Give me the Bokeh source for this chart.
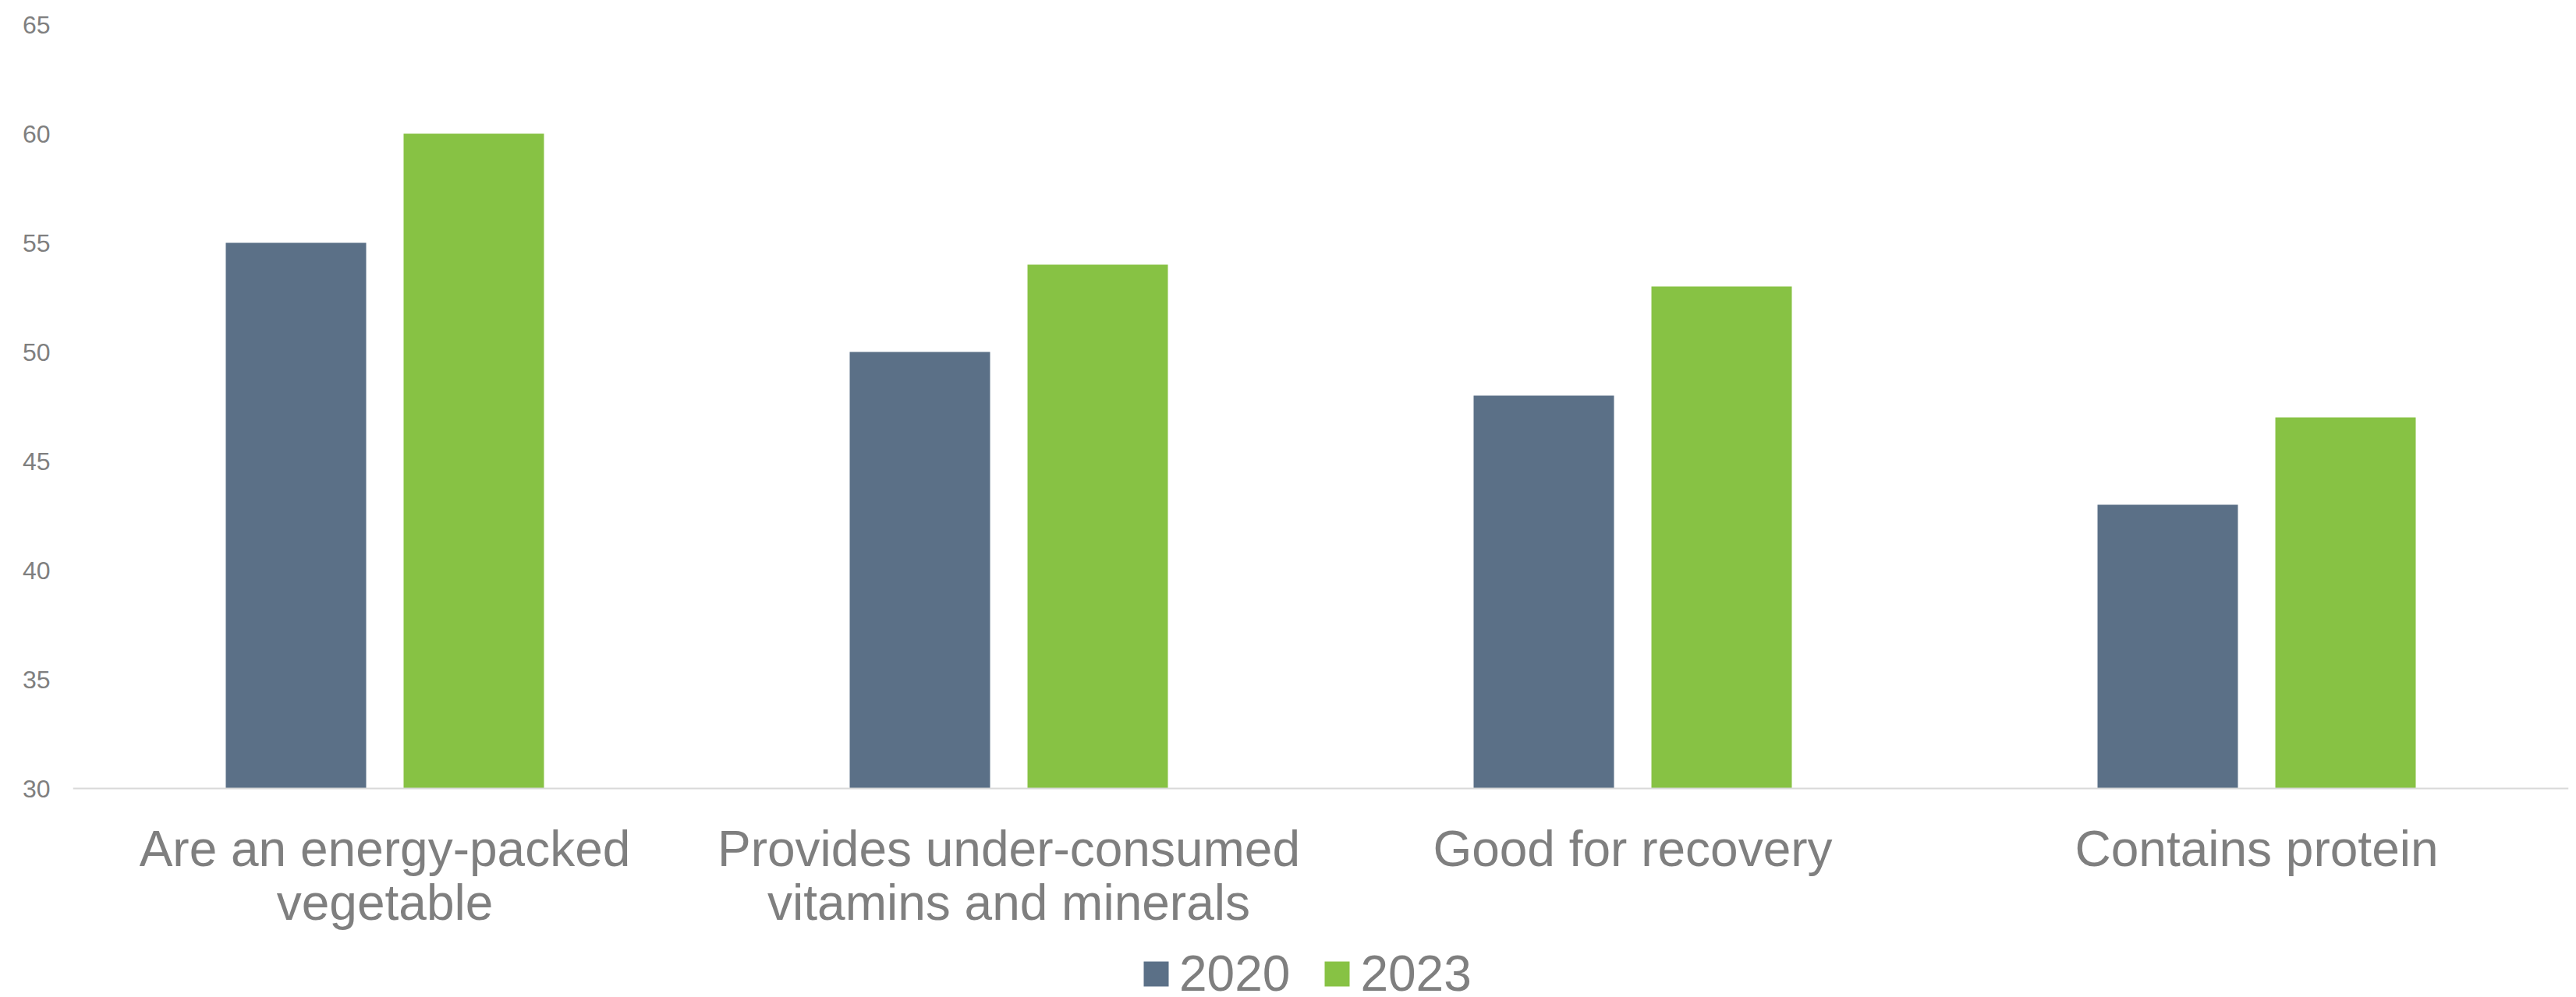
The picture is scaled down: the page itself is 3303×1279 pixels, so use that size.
from bokeh.plotting import figure
from bokeh.models import (ColumnDataSource, FactorRange, Range1d, FixedTicker, Legend, LegendItem,
                          CategoricalAxis)
from bokeh.transform import dodge
from bokeh.embed import file_html
from bokeh.resources import INLINE

categories = ["Are an energy-packed vegetable", "Provides under-consumed vitamins and minerals",
              "Good for recovery", "Contains protein"]
label_line1 = ["Are an energy-packed", "Provides under-consumed", "Good for recovery", "Contains protein"]
label_line2 = ["vegetable", "vitamins and minerals", " ", "  "]
series_names = ["2020", "2023"]
values_2020 = [55, 50, 48, 43]
values_2023 = [60, 54, 53, 47]
y_ticks = [30, 35, 40, 45, 50, 55, 60, 65]
y_axis_min = 30
y_axis_max = 65

FONT = "Liberation Sans"
GRAY = "#7f7f7f"

W, H = 3303, 1279
TOP, AXIS_Y = 31, 1011          # screen rows of y=65 and y=30
px_per_unit = (AXIS_Y - TOP) / (y_axis_max - y_axis_min)
y_view_start = y_axis_min - (H - AXIS_Y) / px_per_unit   # frame extends down to hold labels/legend

source = ColumnDataSource(dict(cat=categories, v2020=values_2020, v2023=values_2023))

p = figure(width=W, height=H, x_range=FactorRange(*categories),
           y_range=Range1d(y_view_start, y_axis_max),
           x_axis_location=None, output_backend="svg", toolbar_location=None,
           min_border_left=93, min_border_right=10, min_border_top=TOP, min_border_bottom=0)
p.extra_x_ranges = {"line1": FactorRange(*label_line1), "line2": FactorRange(*label_line2)}

r1 = p.vbar(x=dodge("cat", -0.1425, range=p.x_range), top="v2020", bottom=y_axis_min, width=0.225,
            source=source, color="#5B7087", line_color=None)
r2 = p.vbar(x=dodge("cat", 0.1425, range=p.x_range), top="v2023", bottom=y_axis_min, width=0.225,
            source=source, color="#87C244", line_color=None)

p.xgrid.visible = False
p.ygrid.visible = False
p.outline_line_color = None
p.background_fill_color = "white"
p.border_fill_color = "white"

p.yaxis.ticker = FixedTicker(ticks=y_ticks)
p.yaxis.axis_line_color = None
p.yaxis.major_tick_line_color = None
p.yaxis.minor_tick_line_color = None
p.yaxis.major_label_text_font = FONT
p.yaxis.major_label_text_font_size = "32px"
p.yaxis.major_label_text_color = GRAY
p.yaxis.major_label_standoff = 23

axis1 = CategoricalAxis(x_range_name="line1", fixed_location=y_axis_min,
                        axis_line_color="#d9d9d9", axis_line_width=2,
                        major_tick_line_color=None, minor_tick_line_color=None,
                        major_label_text_font=FONT, major_label_text_font_size="64px",
                        major_label_text_color=GRAY, major_label_standoff=35)
axis2 = CategoricalAxis(x_range_name="line2", fixed_location=y_axis_min, axis_line_color=None,
                        major_tick_line_color=None, minor_tick_line_color=None,
                        major_label_text_font=FONT, major_label_text_font_size="64px",
                        major_label_text_color=GRAY, major_label_standoff=104)
p.add_layout(axis1, "below")
p.add_layout(axis2, "below")

legend = Legend(items=[LegendItem(label=series_names[0], renderers=[r1]),
                       LegendItem(label=series_names[1], renderers=[r2])],
                orientation="horizontal", location=(1369, -7),
                label_text_font=FONT, label_text_font_size="64px", label_text_color=GRAY,
                glyph_width=40, glyph_height=40, label_standoff=10, spacing=40,
                padding=0, margin=0, border_line_color=None, background_fill_alpha=0)
p.add_layout(legend, "center")

open("out.html", "w").write(file_html(p, INLINE))
